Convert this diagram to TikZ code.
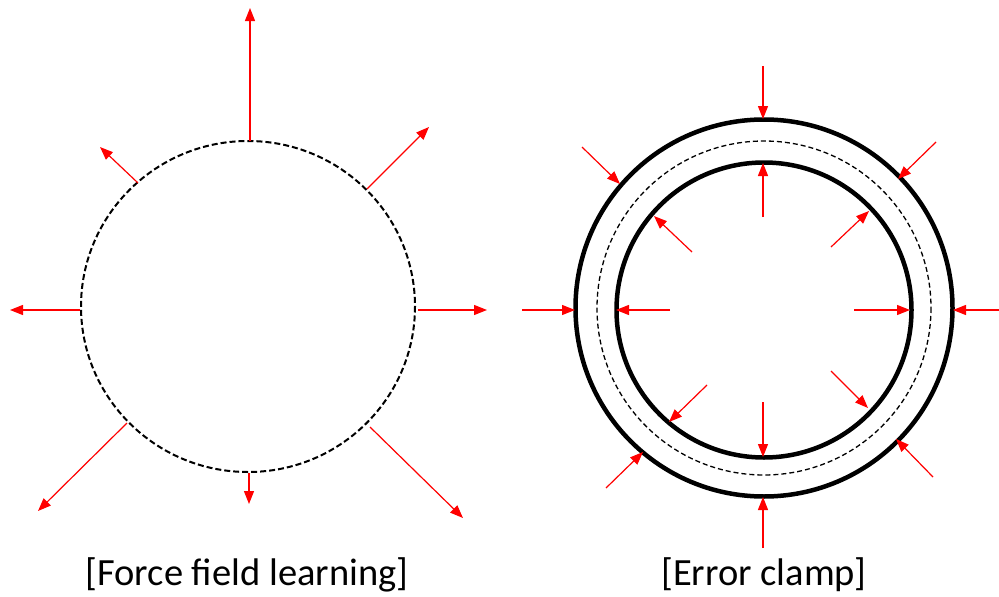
\documentclass[tikz,border=0pt]{standalone}
\usepackage{fontspec}
\setmainfont{Carlito}
\usetikzlibrary{arrows.meta}
\definecolor{arrred}{RGB}{255,0,0}
\tikzset{
  force/.style={draw=arrred, line width=1.2pt, -{Triangle[length=13pt,width=10pt]}},
  dashring/.style={draw=black, line width=2pt, dash pattern=on 6pt off 3pt},
  thinring/.style={draw=black, line width=1.3pt, dash pattern=on 5pt off 3pt},
  solidring/.style={draw=black, line width=4.5pt},
  caption/.style={font=\fontsize{38.5}{42}\selectfont, inner sep=0pt}
}
\begin{document}
\begin{tikzpicture}[x=1pt,y=-1pt]
\useasboundingbox (0,0) rectangle (999,597);
% ---------- left: force field learning ----------
\draw[dashring] (248,306.5) ellipse [x radius=167, y radius=165.5];
\coordinate (l1s) at (250,141); \coordinate (l1e) at (250,8);
\coordinate (l2s) at (367,189); \coordinate (l2e) at (429,127);
\coordinate (l3s) at (418,310); \coordinate (l3e) at (487,310);
\coordinate (l4s) at (370,427); \coordinate (l4e) at (463,518);
\coordinate (l5s) at (249,473); \coordinate (l5e) at (249,504);
\coordinate (l6s) at (127,423); \coordinate (l6e) at (38,511);
\coordinate (l7s) at (80,310);  \coordinate (l7e) at (10,310);
\coordinate (l8s) at (138,183); \coordinate (l8e) at (100,147);
\foreach \i in {1,...,8} \draw[force] (l\i s) -- (l\i e);
\node[caption] (capL) at (247,575) {[Force field learning]};
% ---------- right: error clamp ----------
\draw[solidring] (764,308) circle [radius=188.5];
\draw[thinring] (764,308) circle [radius=167];
\draw[solidring] (764,310) circle [radius=147.5];
% outer arrows (pointing inward onto outer ring)
\coordinate (o1s) at (763,66);  \coordinate (o1e) at (763,119);
\coordinate (o2s) at (763,548); \coordinate (o2e) at (763,497);
\coordinate (o3s) at (522,310); \coordinate (o3e) at (575,310);
\coordinate (o4s) at (999,310); \coordinate (o4e) at (953,310);
\coordinate (o5s) at (582,147); \coordinate (o5e) at (620,184);
\coordinate (o6s) at (936,142); \coordinate (o6e) at (898,179);
\coordinate (o7s) at (606,488); \coordinate (o7e) at (643,452);
\coordinate (o8s) at (933,477); \coordinate (o8e) at (896,439);
% inner arrows (pointing outward onto inner ring)
\coordinate (i1s) at (763,217); \coordinate (i1e) at (763,163);
\coordinate (i2s) at (763,402); \coordinate (i2e) at (763,457);
\coordinate (i3s) at (670,310); \coordinate (i3e) at (616,310);
\coordinate (i4s) at (854,310); \coordinate (i4e) at (910,310);
\coordinate (i5s) at (692,252); \coordinate (i5e) at (654,216);
\coordinate (i6s) at (831,247); \coordinate (i6e) at (869,211);
\coordinate (i7s) at (707,385); \coordinate (i7e) at (669,422);
\coordinate (i8s) at (831,371); \coordinate (i8e) at (868,408);
\foreach \i in {1,...,8} {
  \draw[force] (o\i s) -- (o\i e);
  \draw[force] (i\i s) -- (i\i e);
}
\node[caption] (capR) at (764,575) {[Error clamp]};
\end{tikzpicture}
\end{document}
